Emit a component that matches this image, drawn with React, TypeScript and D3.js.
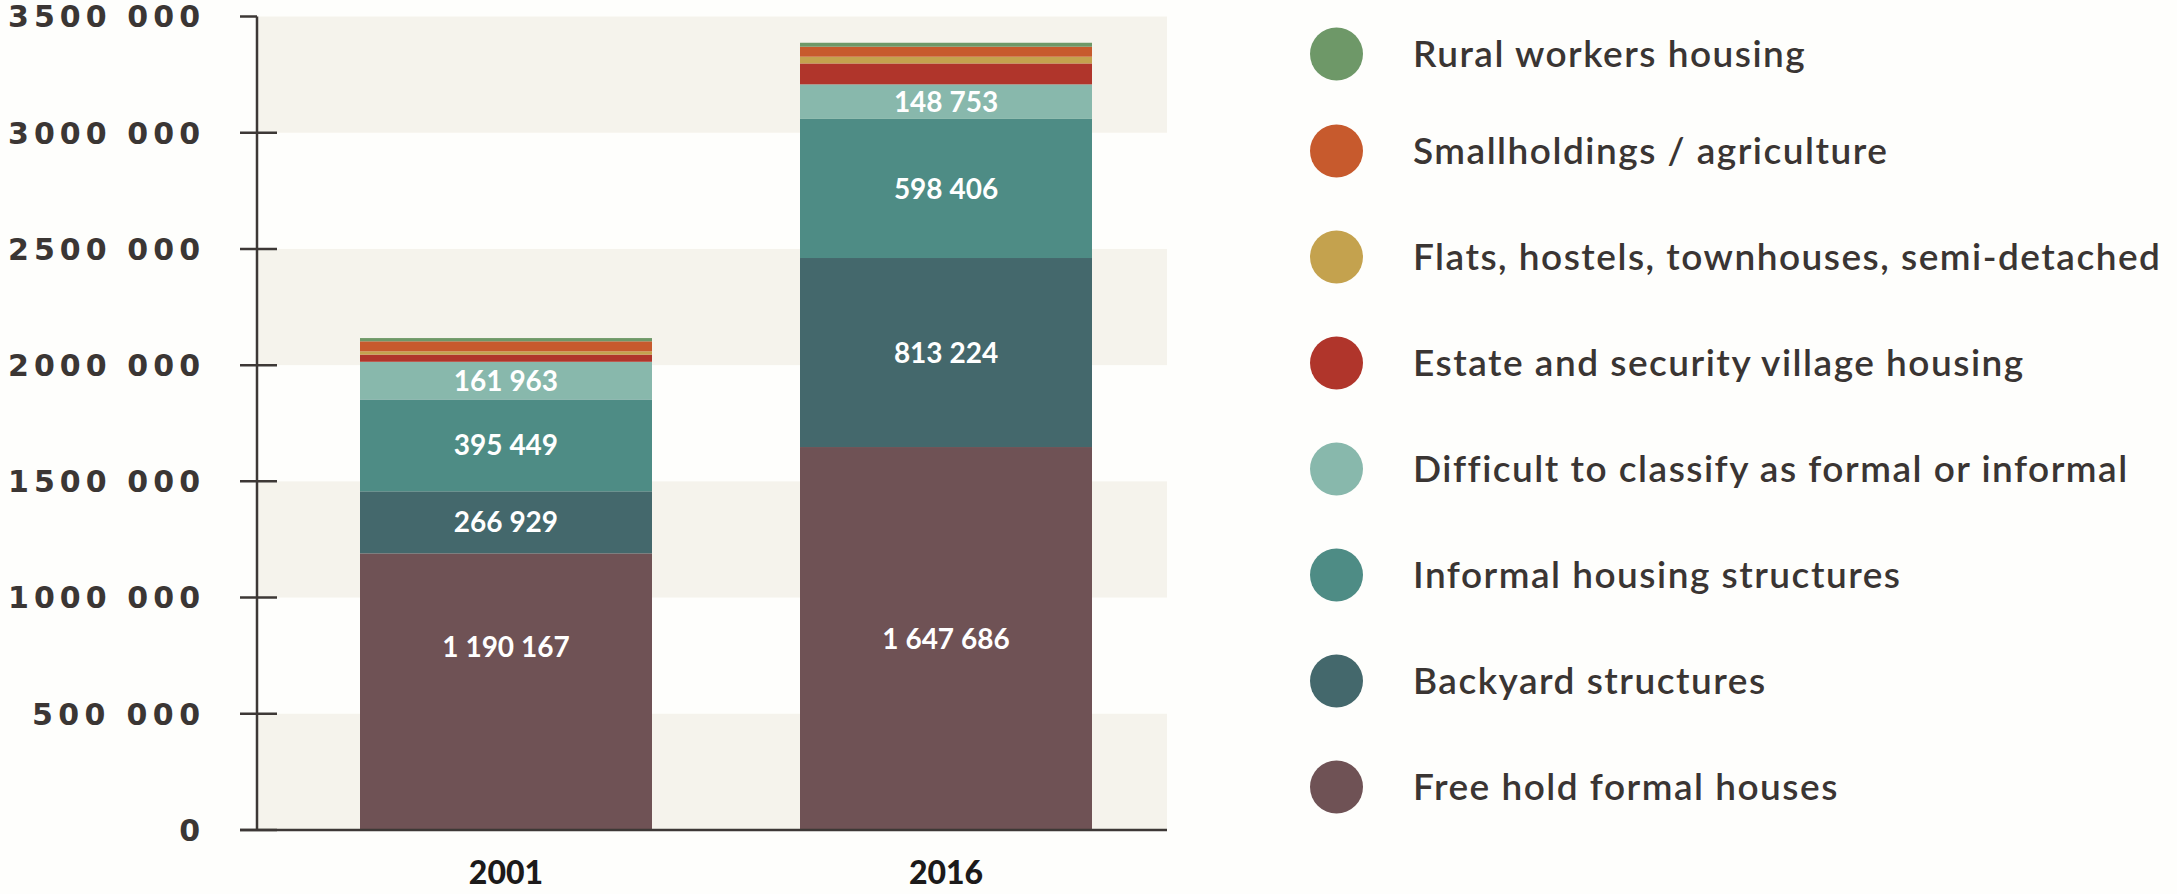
import React from "react";
import * as d3 from "d3";

const years = ["2001", "2016"];
const categories = [
  "Free hold formal houses",
  "Backyard structures",
  "Informal housing structures",
  "Difficult to classify as formal or informal",
  "Estate and security village housing",
  "Flats, hostels, townhouses, semi-detached",
  "Smallholdings / agriculture",
  "Rural workers housing",
];
const colors = ["#6f5255", "#44686c", "#4e8c85", "#88b8ac", "#b0352b", "#c4a24e", "#c75a2d", "#6e9868"];
const values2001 = [1190167, 266929, 395449, 161963, 31000, 14000, 43000, 14000];
const values2016 = [1647686, 813224, 598406, 148753, 90000, 29000, 43000, 17000];
const labelled = [true, true, true, true, false, false, false, false];
const yTicks = [0, 500000, 1000000, 1500000, 2000000, 2500000, 3000000, 3500000];

const W = 2177;
const H = 894;

const fmt = (v: number) => {
  const s = String(v);
  const parts: string[] = [];
  for (let i = s.length; i > 0; i -= 3) parts.unshift(s.slice(Math.max(0, i - 3), i));
  return parts.join(" ");
};
const fmtTick = (v: number) => {
  if (v < 1000) return String(v);
  const head = Math.floor(v / 1000);
  const tail = String(v % 1000).padStart(3, "0");
  return `${head} ${tail}`;
};

export default function App() {
  const y = d3.scaleLinear().domain([0, 3500000]).range([830, 16.5]);
  const x = d3.scaleBand().domain(years).range([360, 1092]).paddingInner(0.3364).paddingOuter(0);
  const axisX = 257;
  const plotRight = 1167;

  const rows = years.map((yr, i) => {
    const vals = i === 0 ? values2001 : values2016;
    const obj: any = { year: yr };
    categories.forEach((c, j) => (obj[c] = vals[j]));
    return obj;
  });
  const stacked = d3.stack<any>().keys(categories)(rows);

  const labelNudge = (yr: string, ci: number) => (yr === "2001" && ci === 0 ? -45 : 0);

  const legendY = (i: number) => (i === 0 ? 54 : 151 + (i - 1) * 106);
  const legendOrder = categories.map((c, i) => i).reverse();

  return (
    <div style={{ position: "absolute", left: 0, top: 0 }}>
      <svg width={W} height={H} style={{ display: "block", background: "#fefefc" }}>
        {yTicks.slice(0, -1).map((t, i) =>
          i % 2 === 0 ? (
            <rect
              key={"band" + t}
              x={axisX}
              y={y(yTicks[i + 1])}
              width={plotRight - axisX}
              height={y(t) - y(yTicks[i + 1])}
              fill="#f5f3ec"
            />
          ) : null
        )}
        {stacked.map((series, ci) =>
          series.map((d: any) => (
            <rect
              key={series.key + d.data.year}
              x={x(d.data.year)}
              y={y(d[1])}
              width={x.bandwidth()}
              height={y(d[0]) - y(d[1])}
              fill={colors[ci]}
            />
          ))
        )}
        {stacked.map((series, ci) =>
          labelled[ci]
            ? series.map((d: any) => (
                <text
                  key={"lbl" + series.key + d.data.year}
                  x={(x(d.data.year) as number) + x.bandwidth() / 2}
                  y={(y(d[0]) + y(d[1])) / 2 + labelNudge(d.data.year, ci)}
                  dy="0.36em"
                  textAnchor="middle"
                  fill="#ffffff"
                  fontFamily="Lato, 'Open Sans', sans-serif"
                  fontWeight={700}
                  fontSize={28}
                >
                  {fmt(d.data[series.key])}
                </text>
              ))
            : null
        )}
        <line x1={axisX} x2={axisX} y1={y(3500000)} y2={y(0)} stroke="#3d3836" strokeWidth={2.5} />
        <line x1={240} x2={plotRight} y1={y(0)} y2={y(0)} stroke="#3d3836" strokeWidth={2.5} />
        {yTicks.map((t) => {
          const label = fmtTick(t);
          return (
            <g key={"tick" + t}>
              <line x1={240} x2={t === 3500000 ? axisX : 277} y1={y(t)} y2={y(t)} stroke="#3d3836" strokeWidth={2.5} />
              <text
                x={200}
                y={y(t)}
                dy="0.36em"
                textAnchor="end"
                fill="#3b3634"
                fontFamily="'DejaVu Sans', sans-serif"
                fontWeight={700}
                fontSize={30}
                textLength={label.length > 1 ? label.length * 24 : undefined}
                lengthAdjust={label.length > 1 ? "spacing" : undefined}
              >
                {label}
              </text>
            </g>
          );
        })}
        {years.map((yr) => (
          <text
            key={"x" + yr}
            x={(x(yr) as number) + x.bandwidth() / 2}
            y={872}
            dy="0.36em"
            textAnchor="middle"
            fill="#1c1a1a"
            fontFamily="Lato, sans-serif"
            fontWeight={900}
            fontSize={32}
          >
            {yr}
          </text>
        ))}
        {legendOrder.map((ci, i) => (
          <g key={"leg" + ci}>
            <circle cx={1336.5} cy={legendY(i)} r={26.5} fill={colors[ci]} />
            <text
              x={1413}
              y={legendY(i)}
              dy="0.36em"
              fill="#3a3533"
              fontFamily="Lato, sans-serif"
              fontWeight={600}
              fontSize={37}
              letterSpacing={1.5}
            >
              {categories[ci]}
            </text>
          </g>
        ))}
      </svg>
    </div>
  );
}
